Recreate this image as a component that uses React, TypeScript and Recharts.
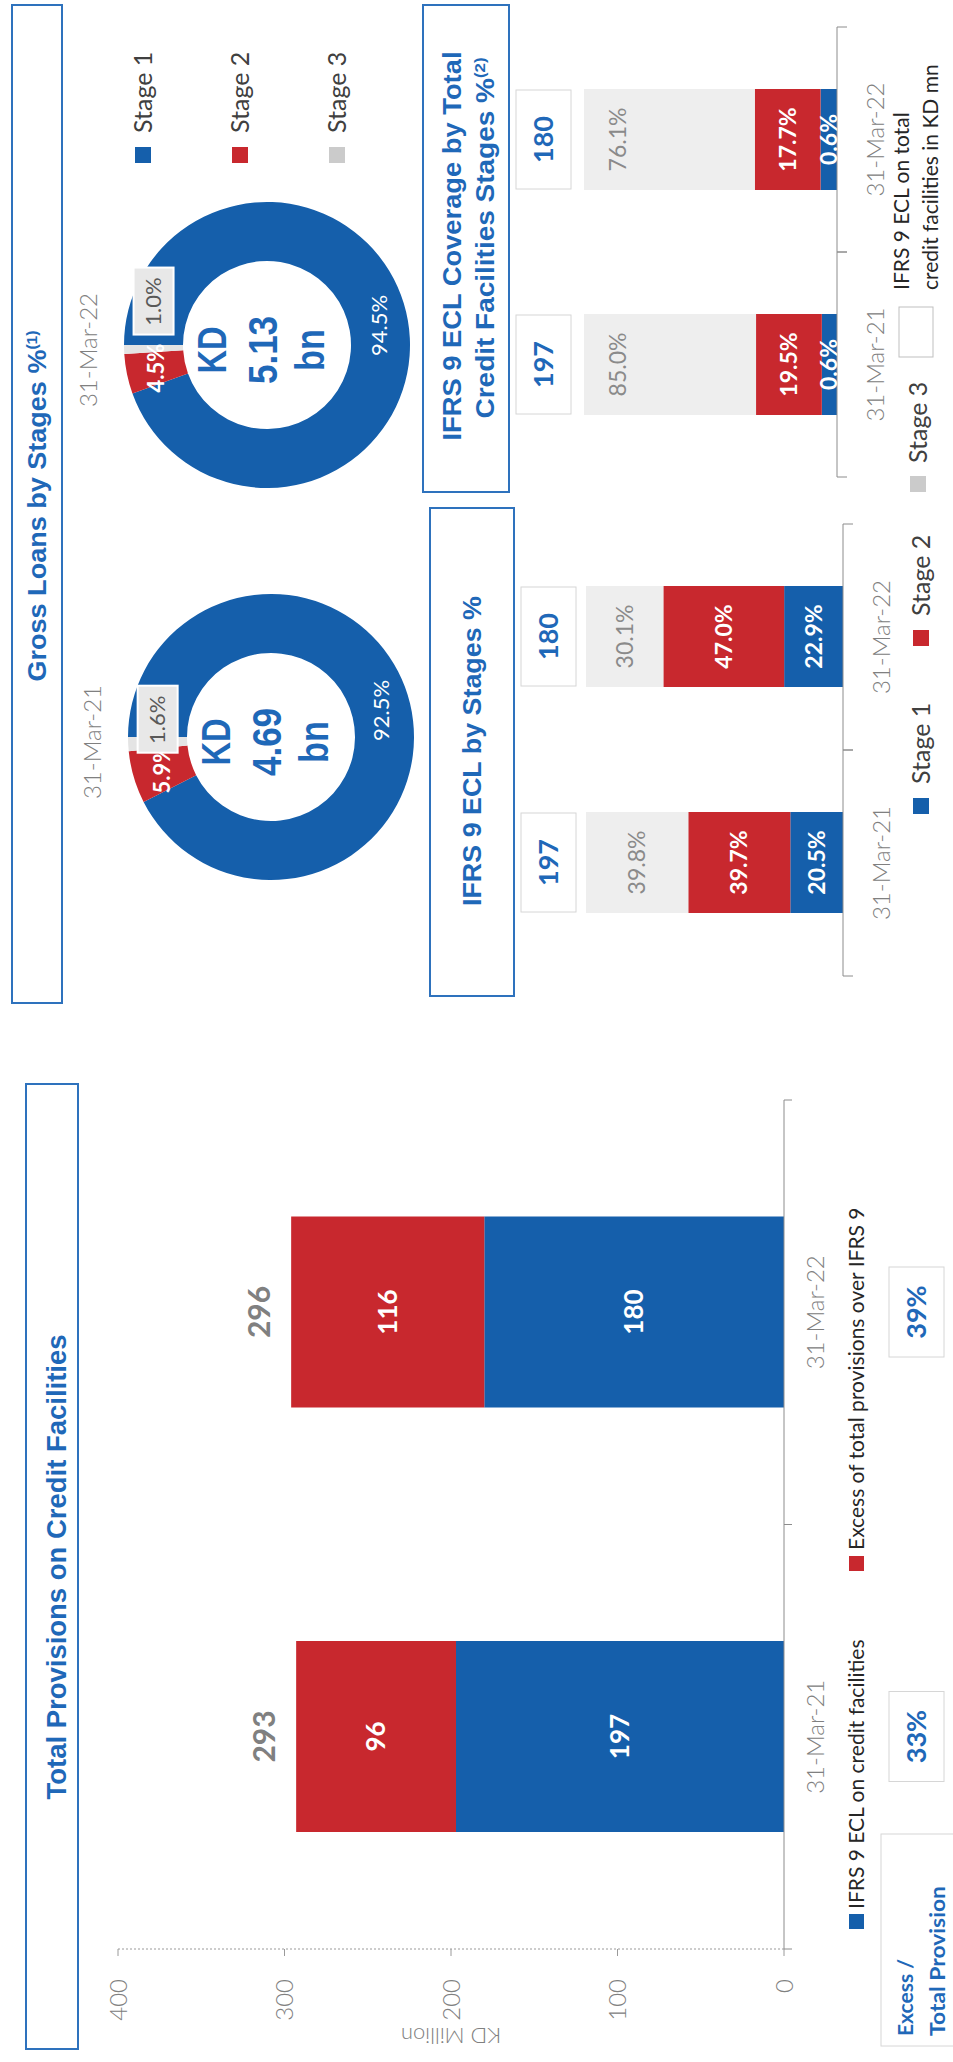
import React from 'react';
import { BarChart, Bar, XAxis, YAxis, LabelList, PieChart, Pie, Cell } from 'recharts';

// Total provisions (KD mn)
const provisionDates = ['31-Mar-21', '31-Mar-22'];
const eclOnCreditFacilities = [197, 180];
const excessOverIfrs9 = [96, 116];
const totalProvisions = [293, 296];
const excessToTotal = ['33%', '39%'];
const provisionTicks = [0, 100, 200, 300, 400];

// Gross loans by stage (%)
const stageNames = ['Stage 1', 'Stage 2', 'Stage 3'];
const loanDates = ['31-Mar-21', '31-Mar-22'];
const grossLoansStage = [
  [92.5, 5.9, 1.6],
  [94.5, 4.5, 1.0],
];
const grossLoansTotal = ['4.69', '5.13'];

// IFRS 9 ECL by stage (%)
const eclDates = ['31-Mar-21', '31-Mar-22'];
const eclStage1 = [20.5, 22.9];
const eclStage2 = [39.7, 47.0];
const eclStage3 = [39.8, 30.1];
const eclTotal = [197, 180];

// ECL coverage by stage (%)
const coverageStage1 = [0.6, 0.6];
const coverageStage2 = [19.5, 17.7];
const coverageStage3 = [85.0, 76.1];
// segment sizes as drawn on the slide (not to scale with the printed labels)
const coverageDrawn1 = [6, 6.5];
const coverageDrawn2 = [26, 26];
const coverageDrawn3 = [68, 67.5];

const BLUE = '#155fab';
const RED = '#c8282e';
const STAGE3_BAR = '#eeeeee';
const STAGE3_KEY = '#cbcbcb';
const STAGE3_PIE = '#e4e4e4';
const TITLE_BLUE = '#1f68b8';
const LABEL_GREY = '#808080';
const AXIS_GREY = '#8c8c8c';
const BOX_GREY = '#d6d6d6';
const DARK = '#262626';
const FONT = 'Lato, "Open Sans", sans-serif';
const HEAD = '"Liberation Sans", Arial, sans-serif';
const STAGE_COLORS = [BLUE, RED, STAGE3_PIE];
const STAGE3_SHIFT = [23, 47];
const RAD = Math.PI / 180;

const pct = (v: number) => `${v.toFixed(1)}%`;

const provisionData = provisionDates.map((date, i) => ({
  date,
  ecl: eclOnCreditFacilities[i],
  excess: excessOverIfrs9[i],
  total: totalProvisions[i],
  share: excessToTotal[i],
}));

const eclData = eclDates.map((date, i) => ({
  date,
  s1: eclStage1[i],
  s2: eclStage2[i],
  s3: eclStage3[i],
  l1: pct(eclStage1[i]),
  l2: pct(eclStage2[i]),
  l3: pct(eclStage3[i]),
  total: eclTotal[i],
}));

const coverageData = eclDates.map((date, i) => ({
  date,
  s1: coverageDrawn1[i],
  s2: coverageDrawn2[i],
  s3: coverageDrawn3[i],
  l1: pct(coverageStage1[i]),
  l2: pct(coverageStage2[i]),
  l3: pct(coverageStage3[i]),
  total: eclTotal[i],
}));

function rectOf(p: any) {
  const v = p.viewBox && p.viewBox.width !== undefined ? p.viewBox : p;
  return { x: Number(v.x), y: Number(v.y), w: Number(v.width), h: Number(v.height) };
}

const segLabel = (color: string, size: number, weight: number, place: 'center' | 'top' = 'center') =>
  (p: any) => {
    const { x, y, w, h } = rectOf(p);
    const cy = place === 'top' ? y + 34 : y + h / 2;
    return (
      <text x={x + w / 2} y={cy} dy="0.35em" textAnchor="middle" fill={color}
        fontSize={size} fontWeight={weight} fontFamily={FONT}>
        {p.value}
      </text>
    );
  };

// white box with the facility total, sitting above the stacked bar
const valueBox = (lift: number) => (p: any) => {
  const { x, y, w } = rectOf(p);
  const bw = 99;
  const top = y - lift;
  return (
    <g>
      <rect x={x + w / 2 - bw / 2} y={top} width={bw} height={55} fill="#fff" stroke={BOX_GREY} />
      <text x={x + w / 2} y={top + 37} textAnchor="middle" fill={TITLE_BLUE}
        fontSize={27} fontWeight={700} fontFamily={FONT}>
        {p.value}
      </text>
    </g>
  );
};

const shareBox = (p: any) => {
  const { x, y, w, h } = rectOf(p);
  const top = y + h + 105;
  return (
    <g>
      <rect x={x + w / 2 - 45} y={top} width={90} height={55} fill="#fff" stroke={BOX_GREY} />
      <text x={x + w / 2} y={top + 37} textAnchor="middle" fill={TITLE_BLUE}
        fontSize={27} fontWeight={700} fontFamily={FONT}>
        {p.value}
      </text>
    </g>
  );
};

const totalLabel = (p: any) => {
  const { x, y, w } = rectOf(p);
  return (
    <text x={x + w / 2} y={y - 21} textAnchor="middle" fill={LABEL_GREY}
      fontSize={30} fontWeight={700} fontFamily={FONT}>
      {p.value}
    </text>
  );
};

// category label plus Excel-style tick marks on the band edges
const bandTick = (baseline: number, tickLen: number) => (p: any) => {
  const { x, y, payload } = p;
  const off = payload && payload.offset ? payload.offset : 0;
  return (
    <g>
      {off > 0 && (
        <>
          <line x1={x - off} x2={x - off} y1={y} y2={y + tickLen} stroke={AXIS_GREY} />
          <line x1={x + off} x2={x + off} y1={y} y2={y + tickLen} stroke={AXIS_GREY} />
        </>
      )}
      <text x={x} y={y + baseline} textAnchor="middle" fill={LABEL_GREY}
        fontSize={24} fontWeight={300} fontFamily={FONT}>
        {payload.value}
      </text>
    </g>
  );
};

const donutLabel = (donut: number) => (p: any) => {
  const r = (p.innerRadius + p.outerRadius) / 2;
  const x = p.cx + r * Math.cos(-p.midAngle * RAD);
  const y = p.cy + r * Math.sin(-p.midAngle * RAD);
  if (p.index === 2) {
    const bx = x + STAGE3_SHIFT[donut];
    return (
      <g>
        <rect x={bx - 33} y={y - 20} width={67} height={40} fill="#e8e8e8" stroke="#fff" strokeWidth={2} />
        <text x={bx} y={y} dy="0.35em" textAnchor="middle" fill="#595959" fontSize={22} fontFamily={FONT}>
          {pct(p.value)}
        </text>
      </g>
    );
  }
  return (
    <text x={x} y={y} dy="0.35em" textAnchor="middle" fill="#fff" fontSize={22}
      fontWeight={p.index === 1 ? 700 : 400} fontFamily={FONT}>
      {pct(p.value)}
    </text>
  );
};

function ProvisionsChart() {
  return (
    <div style={{ position: 'absolute', left: 0, top: 0 }}>
      <BarChart width={1000} height={953} data={provisionData}
        margin={{ top: 118, right: 38, bottom: 109, left: 0 }}>
        <XAxis dataKey="date" height={60} interval={0} tickLine={false} tickSize={0} tickMargin={0}
          axisLine={{ stroke: AXIS_GREY }} tick={bandTick(40, 8)} />
        <YAxis domain={[0, 400]} ticks={provisionTicks} width={113} interval={0}
          axisLine={{ stroke: '#9a9a9a', strokeDasharray: '2 2' }}
          tickLine={{ stroke: '#9a9a9a' }} tickSize={7} tickMargin={23}
          tick={{ fill: LABEL_GREY, fontSize: 24, fontFamily: FONT, fontWeight: 300 }}
          label={{ value: 'KD Million', angle: -90, position: 'center', dx: -30,
            fill: LABEL_GREY, fontSize: 22, fontFamily: FONT, fontWeight: 300 }} />
        <Bar dataKey="ecl" stackId="p" fill={BLUE} barSize={191} isAnimationActive={false}>
          <LabelList dataKey="ecl" content={segLabel('#fff', 26, 700)} />
          <LabelList dataKey="share" content={shareBox} />
        </Bar>
        <Bar dataKey="excess" stackId="p" fill={RED} barSize={191} isAnimationActive={false}>
          <LabelList dataKey="excess" content={segLabel('#fff', 26, 700)} />
          <LabelList dataKey="total" content={totalLabel} />
        </Bar>
      </BarChart>
    </div>
  );
}

function StageBars({ data, left, width, margin, lift, stage3Place }: any) {
  return (
    <div style={{ position: 'absolute', left, top: 480 }}>
      <BarChart width={width} height={473} data={data} margin={margin}>
        <XAxis dataKey="date" height={60} interval={0} tickLine={false} tickSize={0} tickMargin={0}
          axisLine={{ stroke: AXIS_GREY }} tick={bandTick(47, 10)} />
        <YAxis hide domain={[0, 100]} />
        <Bar dataKey="s1" stackId="s" fill={BLUE} barSize={101} isAnimationActive={false}>
          <LabelList dataKey="l1" content={segLabel('#fff', 23, 700)} />
        </Bar>
        <Bar dataKey="s2" stackId="s" fill={RED} barSize={101} isAnimationActive={false}>
          <LabelList dataKey="l2" content={segLabel('#fff', 23, 700)} />
        </Bar>
        <Bar dataKey="s3" stackId="s" fill={STAGE3_BAR} barSize={101} isAnimationActive={false}>
          <LabelList dataKey="l3" content={segLabel('#8a8a8a', 23, 400, stage3Place)} />
          <LabelList dataKey="total" content={valueBox(lift)} />
        </Bar>
      </BarChart>
    </div>
  );
}

const DONUT_CX = [220, 612];
const DONUT_CY = [266, 262];
const DONUT_LEFT = 1100;

function GrossLoansDonuts() {
  return (
    <div style={{ position: 'absolute', left: DONUT_LEFT, top: 0 }}>
      <PieChart width={800} height={480}>
        {grossLoansStage.map((shares, i) => (
          <Pie key={loanDates[i]} data={shares.map((v, j) => ({ name: stageNames[j], value: v }))}
            dataKey="value" cx={DONUT_CX[i]} cy={DONUT_CY[i]} innerRadius={84} outerRadius={143}
            startAngle={90} endAngle={-270} stroke="none" labelLine={false}
            label={donutLabel(i)} isAnimationActive={false}>
            {shares.map((_, j) => (
              <Cell key={`c-${j}`} fill={STAGE_COLORS[j]} />
            ))}
          </Pie>
        ))}
      </PieChart>
    </div>
  );
}

function T({ x, y, size, weight = 400, fill = DARK, anchor = 'start', len, family = FONT, children }: any) {
  return (
    <text x={x} y={y} fontSize={size} fontWeight={weight} fill={fill} textAnchor={anchor}
      fontFamily={family} textLength={len} lengthAdjust={len ? 'spacingAndGlyphs' : undefined}>
      {children}
    </text>
  );
}

function Overlay() {
  const box = { fill: 'none', stroke: '#2e72bd', strokeWidth: 2 };
  return (
    <svg width={2062} height={953} style={{ position: 'absolute', left: 0, top: 0, pointerEvents: 'none' }}>
      {/* section titles */}
      <rect x={13} y={26} width={965} height={52} {...box} />
      <T x={495} y={66} size={27} weight={700} fill={TITLE_BLUE} anchor="middle" len={465} family={HEAD}>
        Total Provisions on Credit Facilities
      </T>
      <rect x={1059} y={12} width={998} height={50} {...box} />
      <T x={1556} y={46} size={26} weight={700} fill={TITLE_BLUE} anchor="middle" len={351} family={HEAD}>
        Gross Loans by Stages %<tspan dy={-9} fontSize={15}>(1)</tspan>
      </T>
      <rect x={1066} y={430} width={488} height={84} {...box} />
      <T x={1311} y={481} size={25} weight={700} fill={TITLE_BLUE} anchor="middle" len={310} family={HEAD}>
        IFRS 9 ECL by Stages %
      </T>
      <rect x={1570} y={423} width={487} height={86} {...box} />
      <T x={1816} y={461} size={25} weight={700} fill={TITLE_BLUE} anchor="middle" len={389} family={HEAD}>
        IFRS 9 ECL Coverage by Total
      </T>
      <T x={1824} y={494} size={25} weight={700} fill={TITLE_BLUE} anchor="middle" len={361} family={HEAD}>
        Credit Facilities Stages %<tspan dy={-9} fontSize={15}>(2)</tspan>
      </T>

      {/* total provisions legend and ratio caption */}
      <rect x={133} y={849} width={15} height={15} fill={BLUE} />
      <T x={153} y={864} size={21}>IFRS 9 ECL on credit facilities</T>
      <rect x={491} y={849} width={15} height={15} fill={RED} />
      <T x={512} y={864} size={21}>Excess of total provisions over IFRS 9</T>
      <rect x={16} y={881} width={212} height={90} fill="#fff" stroke={BOX_GREY} />
      <T x={26} y={913} size={21} weight={700} fill={TITLE_BLUE} len={77}>Excess /</T>
      <T x={26} y={945} size={21} weight={700} fill={TITLE_BLUE} len={150}>Total Provision</T>

      {/* donut dates, centre totals and legend */}
      {loanDates.map((d, i) => (
        <g key={d}>
          <T x={DONUT_LEFT + DONUT_CX[i]} y={DONUT_CY[i] - 165} size={24} weight={300} fill={LABEL_GREY} anchor="middle">
            {d}
          </T>
          <T x={DONUT_LEFT + DONUT_CX[i]} y={DONUT_CY[i] - 36} size={40} weight={700} fill={TITLE_BLUE} anchor="middle" len={47} family={HEAD}>
            KD
          </T>
          <T x={DONUT_LEFT + DONUT_CX[i]} y={DONUT_CY[i] + 15} size={40} weight={700} fill={TITLE_BLUE} anchor="middle" len={68} family={HEAD}>
            {grossLoansTotal[i]}
          </T>
          <T x={DONUT_LEFT + DONUT_CX[i]} y={DONUT_CY[i] + 62} size={40} weight={700} fill={TITLE_BLUE} anchor="middle" len={42} family={HEAD}>
            bn
          </T>
        </g>
      ))}
      {stageNames.map((s, j) => (
        <g key={s}>
          <rect x={1899} y={135 + j * 97} width={16} height={16} fill={j === 2 ? STAGE3_KEY : STAGE_COLORS[j]} />
          <T x={1929} y={152 + j * 97} size={25} fill="#404040">{s}</T>
        </g>
      ))}

      {/* legend under the two stage charts */}
      <rect x={1248} y={913} width={16} height={16} fill={BLUE} />
      <T x={1278} y={930} size={25} fill="#404040">{stageNames[0]}</T>
      <rect x={1416} y={913} width={16} height={16} fill={RED} />
      <T x={1446} y={930} size={25} fill="#404040">{stageNames[1]}</T>
      <rect x={1570} y={910} width={16} height={16} fill={STAGE3_KEY} />
      <T x={1599} y={927} size={25} fill="#404040">{stageNames[2]}</T>
      <rect x={1705} y={899} width={50} height={34} fill="#fff" stroke="#bfbfbf" />
      <T x={1772} y={909} size={21}>IFRS 9 ECL on total</T>
      <T x={1772} y={938} size={21}>credit facilities in KD mn</T>
    </svg>
  );
}

export default function App() {
  return (
    <div style={{ position: 'absolute', left: 0, top: 0, width: 953, height: 2062, overflow: 'hidden', background: '#fff' }}>
      <div style={{ position: 'absolute', left: 0, top: 0, width: 2062, height: 953,
        transformOrigin: '0 0', transform: 'translateY(2062px) rotate(-90deg)', fontFamily: FONT }}>
        <ProvisionsChart />
        <GrossLoansDonuts />
        <StageBars data={eclData} left={1040} width={540}
          margin={{ top: 106, right: 42, bottom: 50, left: 46 }} lift={65} stage3Place="center" />
        <StageBars data={coverageData} left={1560} width={502}
          margin={{ top: 104, right: 27, bottom: 56, left: 25 }} lift={68} stage3Place="top" />
        <Overlay />
      </div>
    </div>
  );
}
